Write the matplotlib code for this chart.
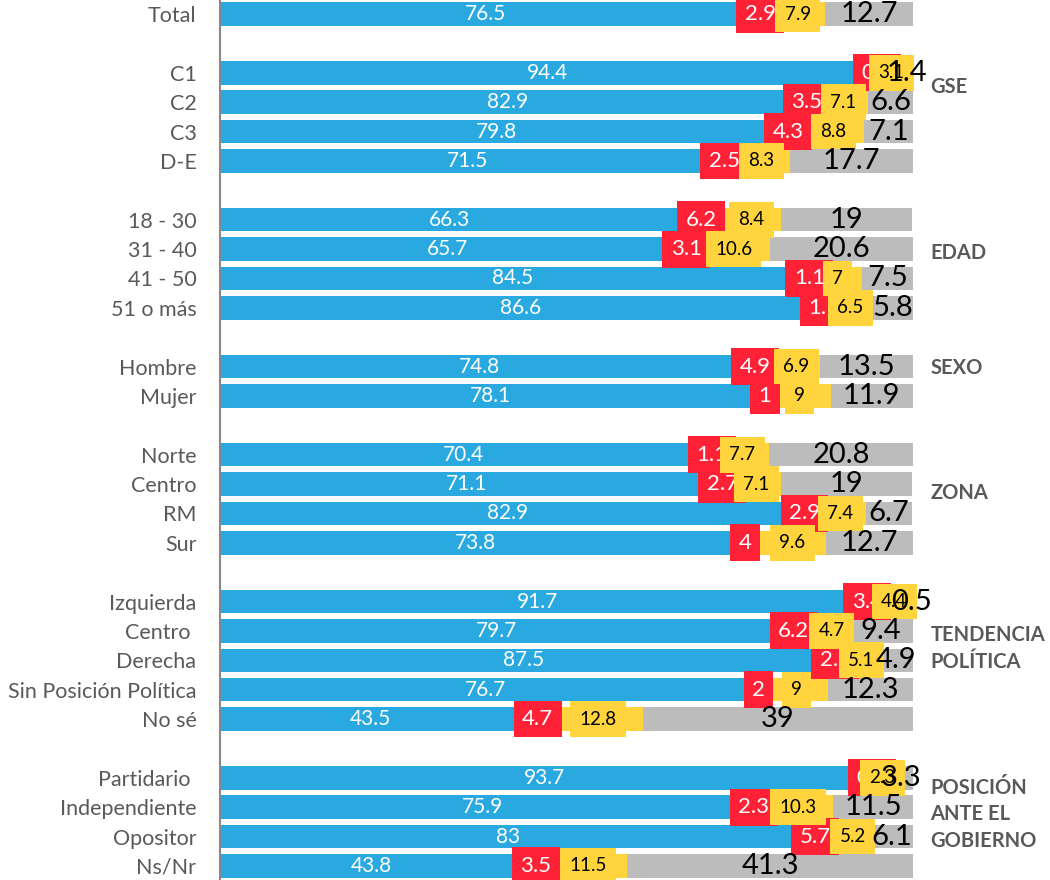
import matplotlib.pyplot as plt

plt.rcParams['font.family'] = ['Lato', 'DejaVu Sans']

categories = ['Total',
              'C1', 'C2', 'C3', 'D-E',
              '18 - 30', '31 - 40', '41 - 50', '51 o más',
              'Hombre', 'Mujer',
              'Norte', 'Centro', 'RM', 'Sur',
              'Izquierda', 'Centro ', 'Derecha', 'Sin Posición Política', 'No sé',
              'Partidario ', 'Independiente', 'Opositor', 'Ns/Nr']
group_sizes = [1, 4, 4, 2, 4, 5, 4]
group_names = ['', 'GSE', 'EDAD', 'SEXO', 'ZONA', 'TENDENCIA\nPOLÍTICA',
               'POSICIÓN\nANTE EL\nGOBIERNO']

blue = [76.5, 94.4, 82.9, 79.8, 71.5, 66.3, 65.7, 84.5, 86.6, 74.8, 78.1,
        70.4, 71.1, 82.9, 73.8, 91.7, 79.7, 87.5, 76.7, 43.5, 93.7, 75.9, 83, 43.8]
red = [2.9, 0.9, 3.5, 4.3, 2.5, 6.2, 3.1, 1.1, 1.1, 4.9, 1,
       1.1, 2.7, 2.9, 4, 3.4, 6.2, 2.5, 2, 4.7, 0.7, 2.3, 5.7, 3.5]
yellow = [7.9, 3.1, 7.1, 8.8, 8.3, 8.4, 10.6, 7, 6.5, 6.9, 9,
          7.7, 7.1, 7.4, 9.6, 4.4, 4.7, 5.1, 9, 12.8, 2.3, 10.3, 5.2, 11.5]
gray = [12.7, 1.4, 6.6, 7.1, 17.7, 19, 20.6, 7.5, 5.8, 13.5, 11.9,
        20.8, 19, 6.7, 12.7, 0.5, 9.4, 4.9, 12.3, 39, 3.3, 11.5, 6.1, 41.3]

# layout: vertical offset of each group title (in rows from group start)
title_offsets = [0, 0.48, 1.13, 0.04, 1.3, 1.6, 1.24]

c_blue = '#29A9E0'
c_red = '#FF2236'
c_yellow = '#FFD43C'
c_gray = '#BCBCBC'
c_text = '#595959'

# row positions: one empty row between groups
ypos = []
starts = []
y = 0
for n in group_sizes:
    starts.append(y)
    ypos += list(range(y, y + n))
    y += n + 1

fig = plt.figure(figsize=(10.5, 8.8), dpi=100)
ax = fig.add_axes([220 / 1050, 0, 693 / 1050, 1])

h = 0.8
left = [0] * len(blue)
bars = []
for vals, col in [(blue, c_blue), (red, c_red), (yellow, c_yellow), (gray, c_gray)]:
    b = ax.barh(ypos, vals, left=left, height=h, color=col, edgecolor='none')
    bars.append(b)
    left = [l + v for l, v in zip(left, vals)]

fmt = lambda v: f'{v:g}'
ax.bar_label(bars[0], fmt=fmt, label_type='center', color='white', fontsize=15)
ax.bar_label(bars[1], fmt=fmt, label_type='center', color='white', fontsize=16,
             bbox=dict(boxstyle='square,pad=0.38', fc=c_red, ec='none'))
ax.bar_label(bars[2], fmt=fmt, label_type='center', color='black', fontsize=13.5,
             bbox=dict(boxstyle='square,pad=0.5', fc=c_yellow, ec='none'))
ax.bar_label(bars[3], fmt=fmt, label_type='center', color='black', fontsize=21)

for s, name, off in zip(starts, group_names, title_offsets):
    if name:
        ax.text(102.5, s + off, name, fontsize=14.5, fontweight='bold', color=c_text,
                va='center', ha='left', linespacing=1.4, clip_on=False)

ax.set_xlim(0, 100)
ax.set_ylim(29.48, -0.48)
ax.set_yticks(ypos, categories)
ax.tick_params(axis='y', length=0, pad=17, labelsize=15.5, labelcolor=c_text)
ax.set_xticks([])
for sp in ['top', 'right', 'bottom']:
    ax.spines[sp].set_visible(False)
ax.spines['left'].set_color('#888888')
ax.spines['left'].set_linewidth(1.5)

fig.savefig('out.png', dpi=100)
